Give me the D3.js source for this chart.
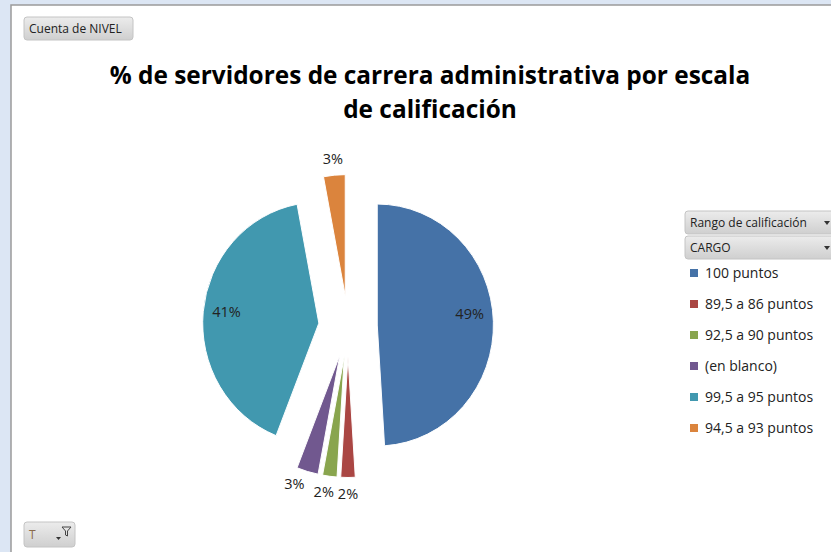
<!DOCTYPE html>
<html>
<head>
<meta charset="utf-8">
<script src="https://cdn.jsdelivr.net/npm/d3@7"></script>
<style>
  body { margin: 0; background: #dce6f4; }
  svg { display: block; }
  text { font-family: "Open Sans", "Noto Sans", sans-serif; }
</style>
</head>
<body>
<svg width="831" height="552"></svg>
<script>
// datos
var categorias = ["100 puntos", "89,5 a 86 puntos", "92,5 a 90 puntos", "(en blanco)", "99,5 a 95 puntos", "94,5 a 93 puntos"];
var valores = [49, 2, 2, 3, 41, 3];
var colores = ["#4572a7", "#aa4643", "#89a54e", "#71588f", "#4198af", "#db843d"];
var titulo = ["% de servidores de carrera administrativa por escala", "de calificación"];

var svg = d3.select("svg");

// fondo del area del grafico
svg.append("rect").attr("x", 11).attr("y", 5).attr("width", 831).attr("height", 560)
    .attr("fill", "#fff").attr("stroke", "#9a9a9a").attr("stroke-width", 1.5);

var grad = svg.append("defs").append("linearGradient")
    .attr("id", "btn").attr("x1", 0).attr("y1", 0).attr("x2", 0).attr("y2", 1);
grad.append("stop").attr("offset", "0%").attr("stop-color", "#ececec");
grad.append("stop").attr("offset", "100%").attr("stop-color", "#cfcfcf");

function boton(x, y, w, h, txt) {
  var g = svg.append("g").attr("transform", "translate(" + x + "," + y + ")");
  g.append("rect").attr("width", w).attr("height", h).attr("rx", 3)
      .attr("fill", "url(#btn)").attr("stroke", "#c4c4c4");
  g.append("text").attr("x", 5).attr("y", h / 2).attr("dy", "0.35em")
      .style("font-size", "12px").attr("fill", "#222").text(txt);
  return g;
}

boton(24, 17, 109, 23, "Cuenta de NIVEL");
var b1 = boton(685, 211, 150, 23, "Rango de calificación");
var b2 = boton(685, 236, 150, 23, "CARGO");
[b1, b2].forEach(function(b) {
  b.append("path").attr("d", "M139,10 l6,0 l-3,4 z").attr("fill", "#333");
});
var bt = boton(24, 522, 51, 25, "T");
bt.select("text").attr("fill", "#8a6a4a");
bt.append("path").attr("d", "M32,15 l5,0 l-2.5,3 z").attr("fill", "#333");
bt.append("path").attr("d", "M38,5 l9,0 l-3.5,4 l0,5 l-2,-1 l0,-4 z").attr("fill", "none").attr("stroke", "#444");

// titulo
svg.append("g").selectAll("text").data(titulo).enter().append("text")
    .attr("x", 430).attr("y", function(d, i) { return 84 + i * 34; })
    .attr("text-anchor", "middle")
    .style("font-size", "24.4px").style("font-weight", "bold").attr("fill", "#000")
    .text(function(d) { return d; });

// torta explotada (levemente achatada en x, como en la hoja)
var cx = 348, cy = 326, radio = 121, explosion = 30.5, sx = 0.96;
var total = d3.sum(valores);

var pie = d3.pie().sort(null).value(function(d) { return d; });
var arc = d3.arc().innerRadius(0).outerRadius(radio);
var arcos = pie(valores);

function medio(d) { return (d.startAngle + d.endAngle) / 2; }

var g = svg.append("g").attr("transform", "translate(" + cx + "," + cy + ") scale(" + sx + ",1)");

g.selectAll(".slice")
  .data(arcos)
  .enter().append("path")
    .attr("class", "slice")
    .attr("transform", function(d) {
      var a = medio(d);
      return "translate(" + (explosion * Math.sin(a)) + "," + (-explosion * Math.cos(a)) + ")";
    })
    .attr("d", arc)
    .attr("fill", function(d, i) { return colores[i]; })
    .attr("stroke", "#fff").attr("stroke-width", 1);

// etiquetas: grandes dentro, pequenas fuera
svg.append("g").selectAll("text")
  .data(arcos)
  .enter().append("text")
    .attr("transform", function(d) {
      var a = medio(d), r, ax;
      if (d.value > 10) {
        r = radio * 0.8;
        ax = a - 0.05 * Math.sin(a) - 0.03;
      } else {
        r = radio + 16;
        // abrir un poco las etiquetas de abajo para que no se pisen
        ax = Math.cos(a) < 0 ? a + (a - Math.PI) * 0.25 : a;
      }
      var x = cx + sx * (explosion * Math.sin(a) + r * Math.sin(ax));
      var y = cy - explosion * Math.cos(a) - r * Math.cos(ax);
      return "translate(" + x + "," + y + ")";
    })
    .attr("text-anchor", "middle").attr("dy", "0.35em")
    .style("font-size", "14.5px").attr("fill", "#222")
    .text(function(d) { return Math.round(d.value / total * 100) + "%"; });

// leyenda
var leg = svg.append("g").attr("transform", "translate(690,273)")
  .selectAll("g").data(categorias).enter().append("g")
    .attr("transform", function(d, i) { return "translate(0," + i * 31 + ")"; });

leg.append("rect").attr("x", 0).attr("y", -4).attr("width", 8).attr("height", 8)
    .attr("fill", function(d, i) { return colores[i]; });
leg.append("text").attr("x", 15).attr("dy", "0.35em")
    .style("font-size", "14px").attr("fill", "#222")
    .text(function(d) { return d; });
</script>
</body>
</html>
